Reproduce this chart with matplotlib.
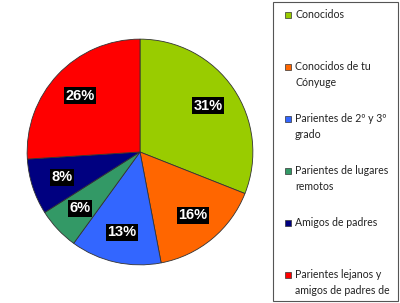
import matplotlib.pyplot as plt
from matplotlib.patches import Rectangle

categories = ["Conocidos", "Conocidos de tu\nCónyuge", "Parientes de 2º y 3º\ngrado",
              "Parientes de lugares\nremotos", "Amigos de padres",
              "Parientes lejanos y\namigos de padres de"]
values = [31, 16, 13, 6, 8, 26]
colors = ["#99CC00", "#FF6600", "#3366FF", "#339966", "#000080", "#FF0000"]

W, H = 400, 303
fig = plt.figure(figsize=(W / 100, H / 100), dpi=100)

# pie: center (140, 152) px, radius 114 px
cx, cy, r = 140, 152, 114
ax = fig.add_axes([(cx - r) / W, (H - cy - r) / H, 2 * r / W, 2 * r / H])
wedges, texts = ax.pie(values, colors=colors, startangle=90, counterclock=False,
                       labels=[f"{v}%" for v in values], labeldistance=0.73,
                       wedgeprops=dict(edgecolor="#333333", linewidth=0.6))
for t in texts:
    t.set_ha("center")
    t.set_va("center")
    t.set_color("white")
    t.set_fontweight("bold")
    t.set_fontsize(10.5)
    t.set_family("Liberation Sans")
    t.set_bbox(dict(facecolor="black", edgecolor="none", pad=1.0))
ax.set_xlim(-1.01, 1.01)
ax.set_ylim(-1.01, 1.01)

# legend drawn by hand
lx0, lx1, ly0, ly1 = 273, 398, 2, 301
lax = fig.add_axes([0, 0, 1, 1])
lax.set_xlim(0, W)
lax.set_ylim(H, 0)
lax.axis("off")
lax.add_patch(Rectangle((lx0, ly0), lx1 - lx0, ly1 - ly0, facecolor="white",
                        edgecolor="#555555", linewidth=0.8))
for i, (lab, col) in enumerate(zip(categories, colors)):
    y = 15 + i * 52
    lax.add_patch(Rectangle((285, y - 3), 6, 6, facecolor=col, edgecolor="#333333",
                            linewidth=0.5))
    lax.text(295, y - 6, lab, fontsize=7.6, family="Lato", color="#222222",
             va="top", ha="left", linespacing=1.6)

fig.savefig("out.png", dpi=100)
